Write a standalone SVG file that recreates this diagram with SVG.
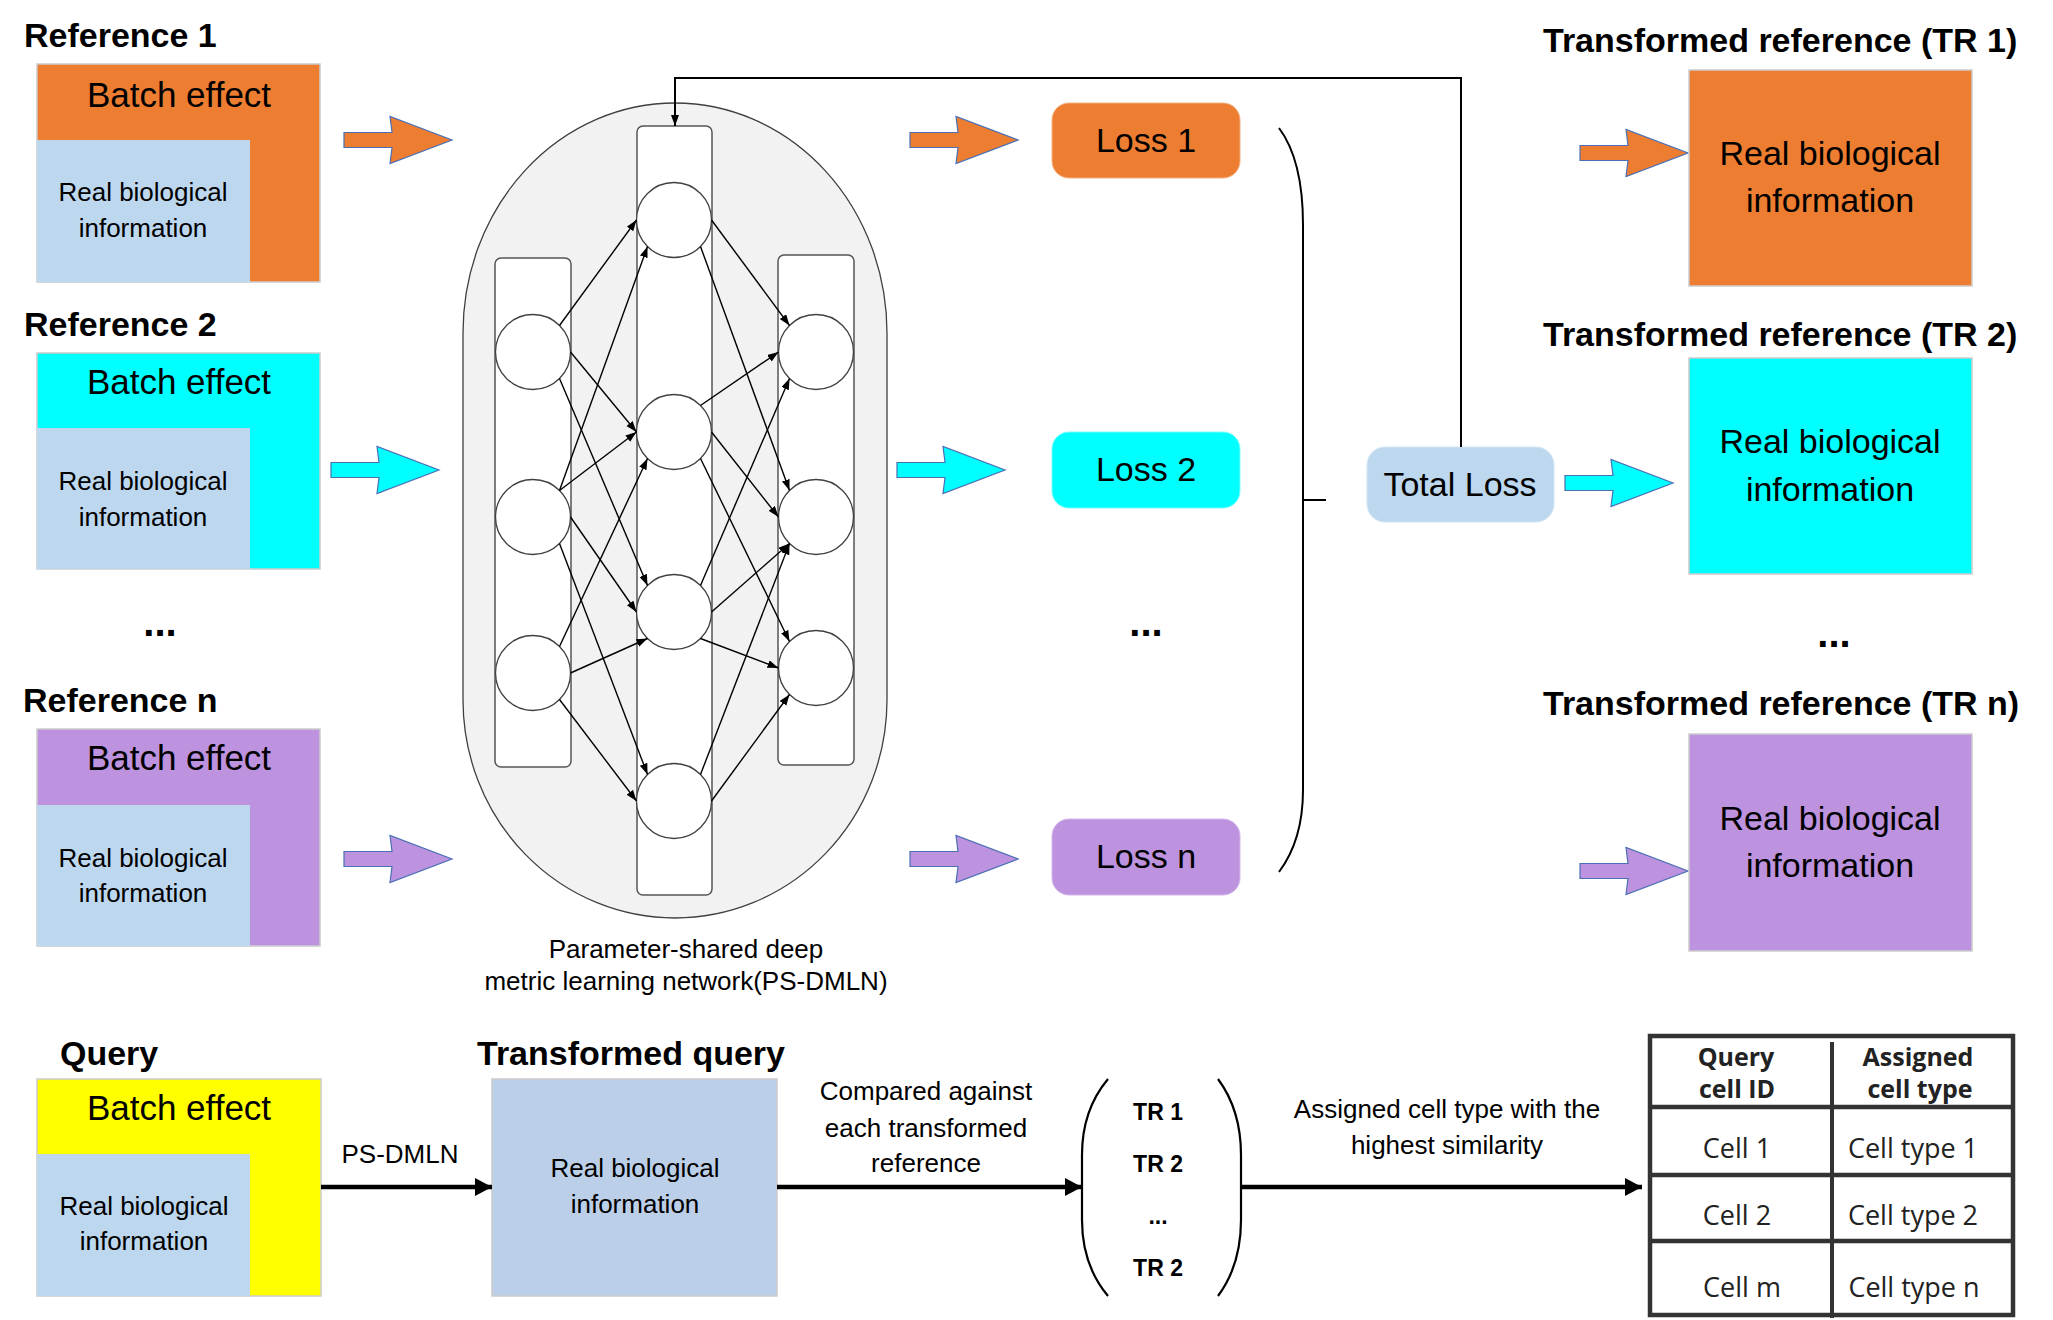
<svg xmlns="http://www.w3.org/2000/svg" xmlns:xlink="http://www.w3.org/1999/xlink" width="2053" height="1320" viewBox="0 0 2053 1320">
<style>
text{font-family:"Liberation Sans",Arial,sans-serif;fill:#000}
.title{font-size:34px;font-weight:bold}
.batch{font-size:35px;text-anchor:middle}
.bio{font-size:26px;text-anchor:middle}
.big{font-size:34px;text-anchor:middle}
.small{font-size:26px;text-anchor:middle}
.dots{font-size:40px;font-weight:bold;text-anchor:middle}
.tr{font-size:23px;font-weight:bold;text-anchor:middle}
.tab{font-family:"Open Sans","Noto Sans",sans-serif;font-size:27px;text-anchor:middle;fill:#222}
.tabh{font-family:"Open Sans","Noto Sans",sans-serif;font-size:25px;font-weight:bold;text-anchor:middle;fill:#222}
.box{stroke:#cccccc;stroke-width:1.5}
.inner{fill:#bdd7ee}
.orange{fill:#ed7d31}
.cyan{fill:#00ffff}
.purple{fill:#bd92de}
.yellow{fill:#ffff00}
.col{fill:#ffffff;stroke:#555;stroke-width:1.5}
.neuron{fill:#ffffff;stroke:#404040;stroke-width:1.3}
.edge{stroke:#000;stroke-width:1.4;fill:none;marker-end:url(#ah)}
.thick{stroke:#000;stroke-width:4.5;fill:none;marker-end:url(#bh)}
.fat{stroke:#4a6fb5;stroke-width:1.2}
</style>
<defs>
<marker id="ah" markerUnits="userSpaceOnUse" markerWidth="12" markerHeight="10" refX="11" refY="4" orient="auto"><path d="M0,0 L11,4 L0,8 Z" fill="#000"/></marker>
<marker id="bh" markerUnits="userSpaceOnUse" markerWidth="20" markerHeight="20" refX="17" refY="9" orient="auto"><path d="M0,0 L17,9 L0,18 Z" fill="#000"/></marker>
<path id="fatArrow" d="M0,-7.5 L48,-7.5 L46,-23.5 L108,0 L46,23.5 L48,7.5 L0,7.5 Z"/>
</defs>

<!-- Reference 1 -->
<g id="ref1">
<text class="title" x="24" y="47">Reference 1</text>
<rect class="box orange" x="37" y="64" width="283" height="218"/>
<rect class="inner" x="37" y="140" width="213" height="142"/>
<text class="batch" x="179" y="107">Batch effect</text>
<text class="bio" x="143" y="201">Real biological</text>
<text class="bio" x="143" y="237">information</text>
</g>
<!-- Reference 2 -->
<g id="ref2">
<text class="title" x="24" y="336">Reference 2</text>
<rect class="box cyan" x="37" y="353" width="283" height="216"/>
<rect class="inner" x="37" y="428" width="213" height="141"/>
<text class="batch" x="179" y="394">Batch effect</text>
<text class="bio" x="143" y="490">Real biological</text>
<text class="bio" x="143" y="526">information</text>
</g>
<text class="dots" x="160" y="636">...</text>
<!-- Reference n -->
<g id="refn">
<text class="title" x="23" y="712">Reference n</text>
<rect class="box purple" x="37" y="729" width="283" height="217"/>
<rect class="inner" x="37" y="805" width="213" height="141"/>
<text class="batch" x="179" y="770">Batch effect</text>
<text class="bio" x="143" y="867">Real biological</text>
<text class="bio" x="143" y="902">information</text>
</g>

<!-- fat arrows -->
<g id="fat-arrows">
<use xlink:href="#fatArrow" href="#fatArrow" class="fat orange" x="344" y="140"/>
<use xlink:href="#fatArrow" href="#fatArrow" class="fat cyan" x="331" y="470"/>
<use xlink:href="#fatArrow" href="#fatArrow" class="fat purple" x="344" y="859"/>
<use xlink:href="#fatArrow" href="#fatArrow" class="fat orange" x="910" y="140"/>
<use xlink:href="#fatArrow" href="#fatArrow" class="fat cyan" x="897" y="470"/>
<use xlink:href="#fatArrow" href="#fatArrow" class="fat purple" x="910" y="859"/>
<use xlink:href="#fatArrow" href="#fatArrow" class="fat orange" x="1580" y="153"/>
<use xlink:href="#fatArrow" href="#fatArrow" class="fat cyan" x="1565" y="483"/>
<use xlink:href="#fatArrow" href="#fatArrow" class="fat purple" x="1580" y="871"/>
</g>

<!-- Network -->
<g id="network">
<path d="M463,333 A212,230 0 0 1 887,333 L887,700 A212,218 0 0 1 463,700 Z" fill="#f2f2f2" stroke="#404040" stroke-width="1.3"/>
<rect class="col" x="495" y="258" width="76" height="509" rx="6"/>
<rect class="col" x="637" y="126" width="75" height="769" rx="6"/>
<rect class="col" x="778" y="255" width="76" height="510" rx="6"/>
<circle class="neuron" cx="533" cy="352" r="37.5"/>
<circle class="neuron" cx="533" cy="517" r="37.5"/>
<circle class="neuron" cx="533" cy="673" r="37.5"/>
<circle class="neuron" cx="674" cy="220" r="37.5"/>
<circle class="neuron" cx="674" cy="432" r="37.5"/>
<circle class="neuron" cx="674" cy="612" r="37.5"/>
<circle class="neuron" cx="674" cy="801" r="37.5"/>
<circle class="neuron" cx="816" cy="352" r="37.5"/>
<circle class="neuron" cx="816" cy="517" r="37.5"/>
<circle class="neuron" cx="816" cy="668" r="37.5"/>
<text class="small" x="686" y="958">Parameter-shared deep</text>
<text class="small" x="686" y="990">metric learning network(PS-DMLN)</text>
</g>

<!-- Loss boxes -->
<g id="loss1"><rect class="orange" x="1052" y="103" width="188" height="75" rx="17" stroke="#f4b183" stroke-width="1"/><text class="big" x="1146" y="152">Loss 1</text></g>
<g id="loss2"><rect class="cyan" x="1052" y="432" width="188" height="76" rx="17" stroke="#7ff" stroke-width="1"/><text class="big" x="1146" y="481">Loss 2</text></g>
<text class="dots" x="1146" y="636">...</text>
<g id="lossn"><rect class="purple" x="1052" y="819" width="188" height="76" rx="17" stroke="#d5b8ec" stroke-width="1"/><text class="big" x="1146" y="868">Loss n</text></g>

<g id="totalloss"><rect class="inner" x="1367" y="447" width="187" height="75" rx="18" stroke="#d5e5f3" stroke-width="1"/><text class="big" x="1460" y="496">Total Loss</text></g>

<!-- Transformed references -->
<g id="tr1">
<text class="title" x="1543" y="52">Transformed reference (TR 1)</text>
<rect class="box orange" x="1689" y="70" width="283" height="216"/>
<text class="big" x="1830" y="165">Real biological</text>
<text class="big" x="1830" y="212">information</text>
</g>
<g id="tr2">
<text class="title" x="1543" y="346">Transformed reference (TR 2)</text>
<rect class="box cyan" x="1689" y="358" width="283" height="216"/>
<text class="big" x="1830" y="453">Real biological</text>
<text class="big" x="1830" y="501">information</text>
</g>
<text class="dots" x="1834" y="647">...</text>
<g id="trn">
<text class="title" x="1543" y="715">Transformed reference (TR n)</text>
<rect class="box purple" x="1689" y="734" width="283" height="217"/>
<text class="big" x="1830" y="830">Real biological</text>
<text class="big" x="1830" y="877">information</text>
</g>

<!-- Query -->
<g id="query">
<text class="title" x="60" y="1065">Query</text>
<rect class="box yellow" x="37" y="1079" width="284" height="217"/>
<rect class="inner" x="37" y="1154" width="213" height="142"/>
<text class="batch" x="179" y="1120">Batch effect</text>
<text class="bio" x="144" y="1215">Real biological</text>
<text class="bio" x="144" y="1250">information</text>
</g>
<g id="tquery">
<text class="title" x="477" y="1065">Transformed query</text>
<rect class="box" x="492" y="1079" width="285" height="217" fill="#bccfe8"/>
<text class="bio" x="635" y="1177">Real biological</text>
<text class="bio" x="635" y="1213">information</text>
</g>
<g id="trlist">
<path d="M1108,1079 Q1082,1110 1082,1155 L1082,1220 Q1082,1265 1108,1296" fill="none" stroke="#000" stroke-width="2.2"/>
<path d="M1218,1079 Q1241,1110 1241,1155 L1241,1220 Q1241,1265 1218,1296" fill="none" stroke="#000" stroke-width="2.2"/>
<text class="tr" x="1158" y="1120">TR 1</text>
<text class="tr" x="1158" y="1172">TR 2</text>
<text class="tr" x="1158" y="1224">...</text>
<text class="tr" x="1158" y="1276">TR 2</text>
</g>
<g id="table">
<rect x="1650" y="1036" width="363" height="279" fill="#fff" stroke="#333" stroke-width="4.5"/>
<line x1="1650" y1="1107" x2="2013" y2="1107" stroke="#333" stroke-width="4.5"/>
<line x1="1650" y1="1175" x2="2013" y2="1175" stroke="#333" stroke-width="4.5"/>
<line x1="1650" y1="1241" x2="2013" y2="1241" stroke="#333" stroke-width="4.5"/>
<line x1="1832" y1="1042" x2="1832" y2="1318" stroke="#333" stroke-width="4"/>
<text class="tabh" x="1736" y="1066">Query</text>
<text class="tabh" x="1737" y="1098">cell ID</text>
<text class="tabh" x="1918" y="1066">Assigned</text>
<text class="tabh" x="1920" y="1098">cell type</text>
<text class="tab" x="1737" y="1158">Cell 1</text>
<text class="tab" x="1913" y="1158">Cell type 1</text>
<text class="tab" x="1737" y="1225">Cell 2</text>
<text class="tab" x="1913" y="1225">Cell type 2</text>
<text class="tab" x="1742" y="1297">Cell m</text>
<text class="tab" x="1914" y="1297">Cell type n</text>
</g>

<!-- Connectors -->
<g id="connectors">
<path class="edge" d="M559.5,325.5 L636.5,220"/>
<path class="edge" d="M570.5,352 L636.5,432"/>
<path class="edge" d="M559.5,378.5 L647.5,585.5"/>
<path class="edge" d="M559.5,490.5 L647.5,246.5"/>
<path class="edge" d="M559.5,490.5 L636.5,432"/>
<path class="edge" d="M570.5,517 L636.5,612"/>
<path class="edge" d="M559.5,543.5 L647.5,774.5"/>
<path class="edge" d="M559.5,646.5 L647.5,458.5"/>
<path class="edge" d="M570.5,673 L647.5,638.5"/>
<path class="edge" d="M559.5,699.5 L636.5,801"/>
<path class="edge" d="M711.5,220 L789.5,325.5"/>
<path class="edge" d="M700.5,246.5 L789.5,490.5"/>
<path class="edge" d="M700.5,405.5 L778.5,352"/>
<path class="edge" d="M711.5,432 L778.5,517"/>
<path class="edge" d="M700.5,458.5 L789.5,641.5"/>
<path class="edge" d="M700.5,585.5 L789.5,378.5"/>
<path class="edge" d="M711.5,612 L789.5,543.5"/>
<path class="edge" d="M700.5,638.5 L778.5,668"/>
<path class="edge" d="M700.5,774.5 L789.5,543.5"/>
<path class="edge" d="M711.5,801 L789.5,694.5"/>
<path d="M1461,447 V78 H675 V126" fill="none" stroke="#000" stroke-width="2" marker-end="url(#ah)"/>
<path d="M1279,128 Q1303,160 1303,225 L1303,790 Q1303,840 1279,872" fill="none" stroke="#000" stroke-width="2"/>
<path d="M1303,500 H1326" stroke="#000" stroke-width="2"/>
<path class="thick" d="M321,1187 H492"/>
<text class="small" x="400" y="1163">PS-DMLN</text>
<path class="thick" d="M777,1187 H1082"/>
<text class="small" x="926" y="1100">Compared against</text>
<text class="small" x="926" y="1137">each transformed</text>
<text class="small" x="926" y="1172">reference</text>
<path class="thick" d="M1241,1187 H1642"/>
<text class="small" x="1447" y="1118">Assigned cell type with the</text>
<text class="small" x="1447" y="1154">highest similarity</text>
</g>
</svg>
